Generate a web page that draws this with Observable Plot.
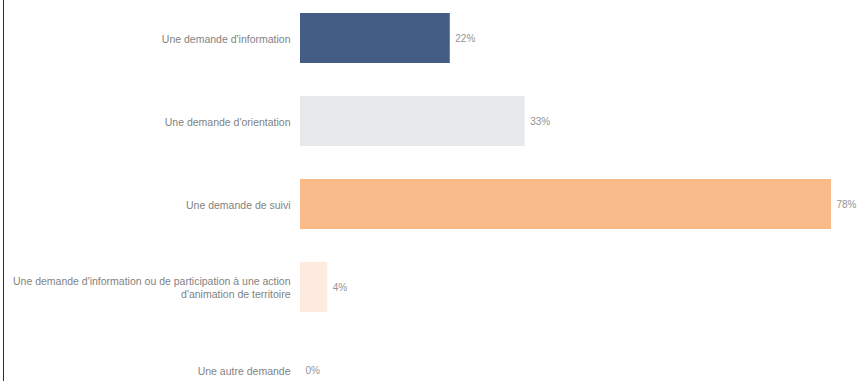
<!DOCTYPE html>
<html>
<head>
<meta charset="utf-8">
<script src="https://cdn.jsdelivr.net/npm/d3@7"></script>
<script src="https://cdn.jsdelivr.net/npm/@observablehq/plot@0.6"></script>
<style>
  html, body { margin: 0; padding: 0; background: #fff; }
  #wrap { position: relative; width: 857px; height: 381px; overflow: hidden; }
  #edge { position: absolute; left: 3px; top: 0; width: 1px; height: 381px; background: #1d2f48; }
</style>
</head>
<body>
<div id="wrap"><div id="edge"></div></div>
<script>
const categories = [
  "Une demande d'information",
  "Une demande d'orientation",
  "Une demande de suivi",
  "Une demande d'information ou de participation à une action d'animation de territoire",
  "Une autre demande"
];
const values = [22, 33, 78, 4, 0];
const colors = ["#445d85", "#e7e8ea", "#f9bb8a", "#fdebe0", "#dddddd"];
const valueLabels = ["22%", "33%", "78%", "4%", "0%"];

const data = categories.map((c, i) => ({cat: c, v: values[i], col: colors[i], lab: valueLabels[i]}));

const wrapLabel = d => d.replace(" d'animation", "\nd'animation");

const chart = Plot.plot({
  width: 857,
  height: 381,
  marginLeft: 300,
  marginRight: 26,
  marginTop: 0,
  marginBottom: 0,
  style: {fontFamily: "'Liberation Sans', Arial, sans-serif", background: "transparent"},
  x: {domain: [0, 78], axis: null},
  y: {domain: categories, range: [-4.75, 412.75], paddingInner: 0.4, paddingOuter: 0.2, axis: null},
  color: {type: "identity"},
  marks: [
    Plot.barX(data, {x: "v", y: "cat", fill: "col"}),
    Plot.axisY({tickSize: 0, tickPadding: 10, tickFormat: wrapLabel, fontSize: 10.5, fill: "#828282", lineHeight: 1.2, label: null}),
    Plot.text(data, {x: "v", y: "cat", text: "lab", textAnchor: "start", dx: 5, fontSize: 10, fill: "#949494"})
  ]
});
document.getElementById("wrap").appendChild(chart);
chart.style.position = "absolute";
chart.style.left = "0";
chart.style.top = "0";
</script>
</body>
</html>
